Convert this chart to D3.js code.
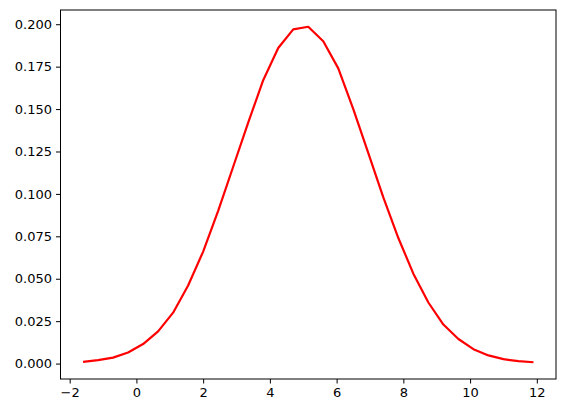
<!DOCTYPE html>
<html>
<head>
<meta charset="utf-8">
<script src="https://cdn.jsdelivr.net/npm/d3@7"></script>
<style>
  body { margin: 0; background: #fff; }
</style>
</head>
<body>
<svg id="chart" width="565" height="413"></svg>
<script>
// sample points of the curve
var xValues = [-1.6, -1.15, -0.7, -0.25, 0.2, 0.65, 1.1, 1.55, 2.0, 2.45, 2.9, 3.35, 3.8, 4.25, 4.7,
  5.15, 5.6, 6.05, 6.5, 6.95, 7.4, 7.85, 8.3, 8.75, 9.2, 9.65, 10.1, 10.55, 11.0, 11.45, 11.9];
var yValues = [0.001, 0.002, 0.0035, 0.0065, 0.0115, 0.019, 0.030, 0.046, 0.066, 0.090, 0.116, 0.142,
  0.167, 0.186, 0.197, 0.1985, 0.190, 0.174, 0.150, 0.124, 0.098, 0.074, 0.053, 0.036, 0.023, 0.0145,
  0.0085, 0.0048, 0.0026, 0.0014, 0.0008];
var xTicks = [-2, 0, 2, 4, 6, 8, 10, 12];
var yTicks = [0, 0.025, 0.05, 0.075, 0.1, 0.125, 0.15, 0.175, 0.2];

var plotLeft = 60.5, plotRight = 556, plotTop = 10, plotBottom = 379;
var svg = d3.select('#chart');

function padded(ext) {
  var m = (ext[1] - ext[0]) * 0.05;
  return [ext[0] - m, ext[1] + m];
}

var x = d3.scaleLinear().domain(padded(d3.extent(xValues))).range([plotLeft, plotRight]);
var y = d3.scaleLinear().domain(padded(d3.extent(yValues))).range([plotBottom, plotTop]);

svg.append('g')
  .attr('transform', 'translate(0,' + plotBottom + ')')
  .call(d3.axisBottom(x).tickValues(xTicks).tickSize(4.5).tickPadding(4)
    .tickFormat(function(d) { return d < 0 ? '\u2212' + (-d) : d; }))
  .call(function(g) { g.select('.domain').remove(); });

svg.append('g')
  .attr('transform', 'translate(' + plotLeft + ',0)')
  .call(d3.axisLeft(y).tickValues(yTicks).tickSize(4.5).tickPadding(4).tickFormat(d3.format('.3f')))
  .call(function(g) { g.select('.domain').remove(); });

svg.selectAll('.tick text')
  .style('font-size', '13px')
  .style('font-family', '"DejaVu Sans", sans-serif')
  .attr('fill', '#000');
svg.selectAll('.tick line').attr('stroke', '#000').attr('stroke-width', 1);

var line = d3.line()
  .x(function(d, i) { return x(xValues[i]); })
  .y(function(d) { return y(d); });

svg.append('path')
  .datum(yValues)
  .attr('d', line)
  .attr('fill', 'none')
  .attr('stroke', 'red')
  .attr('stroke-width', 2.2)
  .attr('stroke-linejoin', 'round');

svg.append('rect')
  .attr('x', plotLeft).attr('y', plotTop)
  .attr('width', plotRight - plotLeft).attr('height', plotBottom - plotTop)
  .attr('fill', 'none').attr('stroke', '#000').attr('stroke-width', 1);
</script>
</body>
</html>
